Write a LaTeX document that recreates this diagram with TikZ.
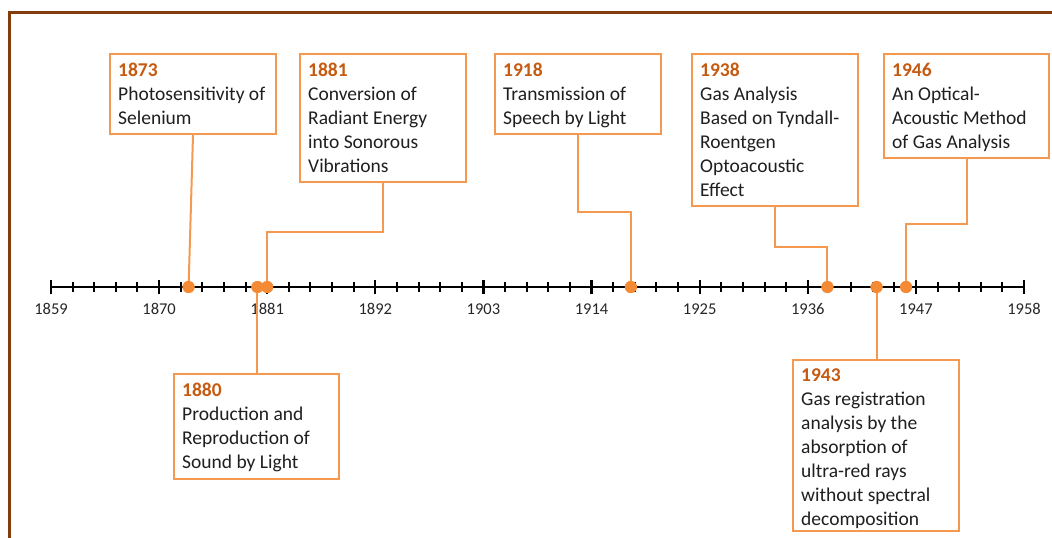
\documentclass[tikz,border=0pt]{standalone}
\usepackage{fontspec}
\setmainfont{Carlito}
\definecolor{framebrown}{HTML}{843C0C}
\definecolor{boxorange}{HTML}{F4994F}
\definecolor{dotorange}{HTML}{F58A35}
\definecolor{yearorange}{HTML}{C55A11}
\begin{document}
\begin{tikzpicture}[x=1pt,y=-1pt,
  evbox/.style={draw=boxorange, line width=2pt, fill=white, rectangle, anchor=north west, inner sep=0pt},
  evtext/.style={anchor=north west, inner sep=0pt, align=left, font=\fontsize{19.5}{24}\selectfont, text=black!88},
  conn/.style={draw=boxorange, line width=2pt},
  evdot/.style={circle, fill=dotorange, minimum size=12pt, inner sep=0pt},
  axlabel/.style={font=\fontsize{16.5}{18}\selectfont, text=black!85, inner sep=0pt}]
\useasboundingbox (0,0) rectangle (1052,538);
% frame
\draw[framebrown, line width=3pt] (9.5,540) -- (9.5,12.5) -- (1054,12.5);
% axis
\def\yx#1{51+(#1-1859)*9.8283}
\draw[black, line width=2.8pt] (51,287) -- (1024,287);
\foreach \i in {0,...,45} {
  \pgfmathsetmacro{\xx}{51+\i*21.6222}
  \pgfmathtruncatemacro{\m}{mod(\i,5)}
  \ifnum\m=0
    \draw[black, line width=2.2pt] (\xx,280) -- (\xx,294);
  \else
    \draw[black, line width=2pt] (\xx,282) -- (\xx,292);
  \fi
}
\foreach \yr [count=\k from 0] in {1859,1870,1881,1892,1903,1914,1925,1936,1947,1958} {
  \node[axlabel] (ax\yr) at ({51+\k*108.111},309) {\yr};
}
% dots
\foreach \yr in {1873,1880,1881,1918,1938,1943,1946} {
  \node[evdot] (d\yr) at ({\yx{\yr}},287) {};
}
% boxes
\node[evbox, minimum width=166pt, minimum height=80pt] (b1873) at (109,53) {};
\node[evbox, minimum width=166pt, minimum height=128pt] (b1881) at (299,53) {};
\node[evbox, minimum width=166pt, minimum height=80pt] (b1918) at (494,53) {};
\node[evbox, minimum width=166pt, minimum height=152pt] (b1938) at (691,53) {};
\node[evbox, minimum width=165pt, minimum height=104pt] (b1946) at (883,53) {};
\node[evbox, minimum width=165pt, minimum height=105pt] (b1880) at (173,373) {};
\node[evbox, minimum width=166pt, minimum height=171pt] (b1943) at (792,359) {};
% texts
\newcommand\yrtxt[1]{\textcolor{yearorange}{\textbf{#1}}}
\node[evtext] (t1873) at ([shift={(9,10)}]b1873.north west) {\yrtxt{1873}\\Photosensitivity of\\Selenium};
\node[evtext] (t1881) at ([shift={(9,10)}]b1881.north west) {\yrtxt{1881}\\Conversion of\\Radiant Energy\\into Sonorous\\Vibrations};
\node[evtext] (t1918) at ([shift={(9,10)}]b1918.north west) {\yrtxt{1918}\\Transmission of\\Speech by Light};
\node[evtext] (t1938) at ([shift={(9,10)}]b1938.north west) {\yrtxt{1938}\\Gas Analysis\\Based on Tyndall-\\Roentgen\\Optoacoustic\\Effect};
\node[evtext] (t1946) at ([shift={(9,10)}]b1946.north west) {\yrtxt{1946}\\An Optical-\\Acoustic Method\\of Gas Analysis};
\node[evtext] (t1880) at ([shift={(9,10)}]b1880.north west) {\yrtxt{1880}\\Production and\\Reproduction of\\Sound by Light};
\node[evtext] (t1943) at ([shift={(9,10)}]b1943.north west) {\yrtxt{1943}\\Gas registration\\analysis by the\\absorption of\\ultra-red rays\\without spectral\\decomposition};
% connectors
\draw[conn] (b1873.south) -- (d1873.center);
\draw[conn] (b1881.south) -- ++(0,49) -| (d1881.center);
\draw[conn] (b1918.south) -- ++(0,77) -| (d1918.center);
\draw[conn] (b1938.south) -- ++(0,40) -| (d1938.center);
\draw[conn] (b1946.south) -- ++(0,65) -| (d1946.center);
\draw[conn] (d1880.center) -- (d1880.center |- b1880.north);
\draw[conn] (d1943.center) -- (d1943.center |- b1943.north);
% redraw dots on top
\foreach \yr in {1873,1880,1881,1918,1938,1943,1946} {
  \fill[dotorange] (d\yr) circle (6pt);
}
\end{tikzpicture}
\end{document}
